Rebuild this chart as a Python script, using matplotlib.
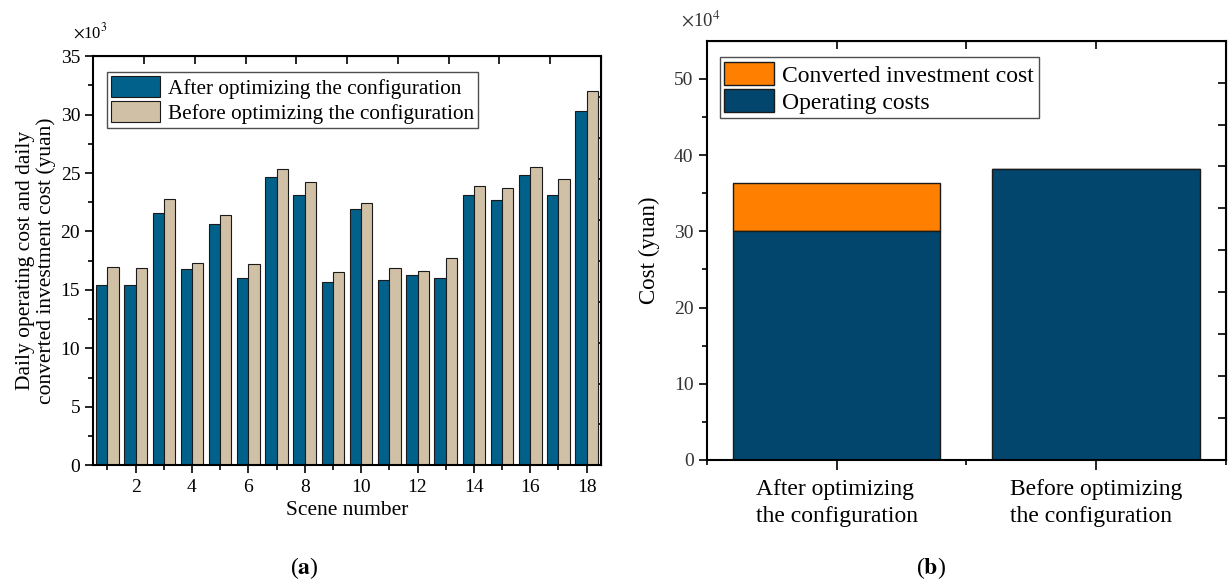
import numpy as np
import matplotlib
matplotlib.use("Agg")
import matplotlib.pyplot as plt

plt.rcParams["font.family"] = ["Liberation Serif", "DejaVu Serif"]
plt.rcParams["mathtext.fontset"] = "stix"

# (a) daily cost per scene, in units of 10^3 yuan
scenes = np.arange(1, 19)
cost_after = [15.4, 15.45, 21.6, 16.75, 20.6, 16.0, 24.65, 23.1, 15.65,
              21.9, 15.85, 16.3, 16.05, 23.1, 22.7, 24.8, 23.1, 30.3]
cost_before = [17.0, 16.9, 22.8, 17.3, 21.45, 17.2, 25.35, 24.2, 16.55,
               22.45, 16.85, 16.65, 17.7, 23.9, 23.75, 25.55, 24.45, 32.05]
series_a = ["After optimizing the configuration",
            "Before optimizing the configuration"]

# (b) total cost, in units of 10^4 yuan
configs = ["After optimizing\nthe configuration",
           "Before optimizing\nthe configuration"]
operating = [30.0, 38.2]
converted = [6.3, 0.0]

BLUE_A = "#02618A"
TAN = "#D0C1A6"
BLUE_B = "#02466E"
ORANGE = "#FF8000"


def frame_ticks(ax, top_ticks, right_ticks):
    """Inner tick marks on the top and right frame, no labels."""
    top = ax.secondary_xaxis("top")
    top.set_xticks(top_ticks)
    top.tick_params(direction="in", length=6, width=1.2, labeltop=False)
    top.minorticks_off()
    right = ax.secondary_yaxis("right")
    right.set_yticks(right_ticks)
    right.tick_params(direction="in", length=6, width=1.2, labelright=False)
    right.minorticks_off()


def boxed_legend(ax, anchor, size, hlen, hheight):
    leg = ax.legend(loc="upper left", bbox_to_anchor=anchor, fontsize=size,
                    frameon=True, fancybox=False, edgecolor="#222222",
                    handlelength=hlen, handleheight=hheight, labelspacing=0.12,
                    handletextpad=0.35, borderpad=0.2, borderaxespad=0.0)
    leg.get_frame().set_linewidth(1.0)
    return leg


fig = plt.figure(figsize=(12.28, 5.81), dpi=100)

# ---- panel (a) ----
ax1 = fig.add_axes([0.076, 0.199, 0.4132, 0.7045])
w = 0.4
ax1.bar(scenes - w / 2, cost_after, width=w, color=BLUE_A,
        edgecolor="#1a1a1a", linewidth=0.8, label=series_a[0])
ax1.bar(scenes + w / 2, cost_before, width=w, color=TAN,
        edgecolor="#1a1a1a", linewidth=0.8, label=series_a[1])
ax1.set_xlim(0.5, 18.5)
ax1.set_ylim(0, 35)
ax1.set_xticks(np.arange(2, 19, 2))
ax1.set_xticks(np.arange(1, 19, 2), minor=True)
ax1.set_yticks(np.arange(0, 36, 5))
ax1.set_yticks(np.arange(2.5, 35, 5), minor=True)
ax1.tick_params(which="major", direction="out", length=6, width=1.2,
                labelsize=14)
ax1.tick_params(which="minor", direction="out", length=3.5, width=1.2)
for s in ax1.spines.values():
    s.set_linewidth(1.5)
frame_ticks(ax1, np.linspace(0.5, 18.5, 11)[1:-1], np.linspace(0, 35, 11)[1:-1])
ax1.set_xlabel("Scene number", fontsize=15.5, labelpad=4)
ax1.set_ylabel("Daily operating cost and daily\nconverted investment cost (yuan)",
               fontsize=15.5, labelpad=3, linespacing=1.1)
ax1.text(-0.04, 1.035, r"$\times$10$^{3}$", transform=ax1.transAxes,
         fontsize=12, ha="left", va="bottom")
boxed_legend(ax1, (0.027, 0.962), 15.3, 2.3, 1.15)

# ---- panel (b) ----
ax2 = fig.add_axes([0.5755, 0.2083, 0.4230, 0.7217])
x = np.arange(len(configs))
ax2.bar(x, converted, width=0.8, bottom=operating, color=ORANGE,
        edgecolor="#1a1a1a", linewidth=1.0, label="Converted investment cost")
ax2.bar(x, operating, width=0.8, color=BLUE_B,
        edgecolor="#1a1a1a", linewidth=1.0, label="Operating costs")
ax2.set_xlim(-0.5, 1.5)
ax2.set_ylim(0, 55)
ax2.set_xticks(x)
ax2.set_xticklabels(configs, fontsize=17, linespacing=1.35)
for lbl in ax2.get_xticklabels():
    lbl.set_horizontalalignment("center")
    lbl.set_multialignment("left")
ax2.set_xticks([-0.5, 0.5, 1.5], minor=True)
ax2.set_yticks(np.arange(0, 51, 10))
ax2.set_yticks(np.arange(5, 55, 10), minor=True)
ax2.tick_params(axis="y", which="major", direction="out", length=6, width=1.2,
                labelsize=14, labelcolor="#333333")
ax2.tick_params(axis="x", which="major", direction="out", length=7, width=1.2,
                pad=7)
ax2.tick_params(which="minor", direction="out", length=3.5, width=1.2)
for s in ax2.spines.values():
    s.set_linewidth(1.5)
frame_ticks(ax2, [0, 0.5, 1], np.linspace(0, 55, 11)[1:-1])
ax2.set_ylabel("Cost (yuan)", fontsize=16.5, labelpad=10)
ax2.text(-0.05, 1.025, r"$\times$10$^{4}$", transform=ax2.transAxes,
         fontsize=13.5, ha="left", va="bottom", color="#333333")
boxed_legend(ax2, (0.025, 0.96), 17, 2.1, 1.1)

fig.text(304 / 1228, 1 - 568 / 581, r"($\mathbf{a}$)", fontsize=17,
         ha="center", va="center")
fig.text(931 / 1228, 1 - 568 / 581, r"($\mathbf{b}$)", fontsize=17,
         ha="center", va="center")

fig.savefig("out.png", dpi=100)
